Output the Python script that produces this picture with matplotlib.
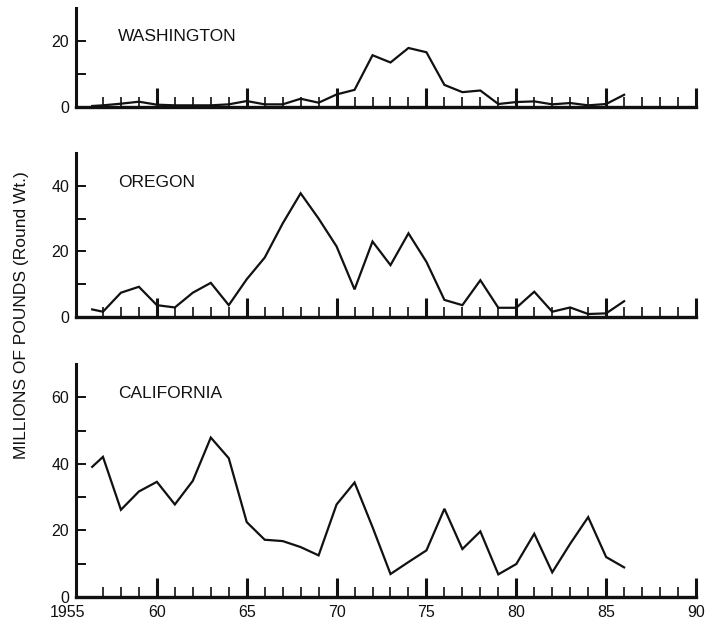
import numpy as np
import matplotlib.pyplot as plt
from matplotlib.ticker import FixedLocator

plt.rcParams['font.family'] = ['Liberation Sans', 'DejaVu Sans']

# landings, millions of pounds (round weight)
years = [1956.4] + list(range(1957, 1987))

washington = [0.3, 0.5, 1.0, 1.6, 0.7, 0.5, 0.5, 0.5, 0.8, 1.8,
              0.8, 0.8, 2.5, 1.3, 3.8, 5.2, 15.7, 13.5, 17.9, 16.6,
              6.7, 4.5, 5.0, 0.9, 1.5, 1.7, 0.8, 1.2, 0.5, 0.9, 3.7]
oregon = [2.3, 1.6, 7.4, 9.2, 3.6, 2.9, 7.4, 10.4, 3.6, 11.5,
          18.1, 28.5, 37.7, 30.0, 21.5, 8.4, 23.0, 15.8, 25.5, 16.8,
          5.2, 3.6, 11.2, 2.8, 2.8, 7.7, 1.6, 2.9, 0.9, 1.1, 4.8]
california = [39.1, 42.1, 26.2, 31.7, 34.6, 27.8, 34.9, 47.9, 41.7, 22.5,
              17.2, 16.8, 15.0, 12.5, 27.8, 34.4, 21.0, 6.9, 10.5, 14.0,
              26.5, 14.4, 19.7, 6.8, 9.9, 19.0, 7.4, 16.0, 24.0, 12.0, 8.9]

states = ['WASHINGTON', 'OREGON', 'CALIFORNIA']
series = [washington, oregon, california]
ymax = [30, 50, 70]
ymajor = [[0, 20], [0, 20, 40], [0, 20, 40, 60]]
yminor = [[10], [10, 30], [10, 30, 50]]
label_y = [21.4, 41, 61]

xmajor = [1960, 1965, 1970, 1975, 1980, 1985, 1990]
xmajor_labels = ['60', '65', '70', '75', '80', '85', '90']
xminor = [y for y in range(1957, 1990) if y % 5 != 0]

# axes boxes in figure fraction [left, bottom, width, height]
boxes = [[0.1069, 0.828, 0.872, 0.159],
         [0.1069, 0.4904, 0.872, 0.2637],
         [0.1069, 0.0402, 0.872, 0.3746]]

ink = '#111111'
fig = plt.figure(figsize=(7.11, 6.22), dpi=100)

for i in range(3):
    ax = fig.add_axes(boxes[i])
    ax.plot(years, series[i], color=ink, lw=1.6, solid_joinstyle='miter')
    ax.set_xlim(1955.5, 1990)
    ax.set_ylim(0, ymax[i])
    ax.spines['top'].set_visible(False)
    ax.spines['right'].set_visible(False)
    ax.spines['left'].set_linewidth(2.2)
    ax.spines['bottom'].set_linewidth(2.4)
    ax.spines['left'].set_color(ink)
    ax.spines['bottom'].set_color(ink)

    ax.set_xticks(xmajor)
    ax.xaxis.set_minor_locator(FixedLocator(xminor))
    ax.set_yticks(ymajor[i])
    ax.yaxis.set_minor_locator(FixedLocator(yminor[i]))
    ax.tick_params(axis='x', which='major', direction='in', length=14,
                   width=2.2, color=ink, pad=5.5, labelsize=11.5, labelcolor=ink)
    ax.tick_params(axis='x', which='minor', direction='in', length=7,
                   width=1.2, color=ink)
    ax.tick_params(axis='y', which='both', direction='in', length=7,
                   width=1.4, color=ink, pad=5, labelsize=11.5, labelcolor=ink)

    if i == 2:
        ax.set_xticklabels(xmajor_labels)
        ax.annotate('1955', xy=(1955, 0), xycoords=('data', 'axes fraction'),
                    xytext=(0, -5.5), textcoords='offset points',
                    ha='center', va='top', fontsize=11.5, color=ink,
                    annotation_clip=False)
    else:
        ax.set_xticklabels([])

    ax.text(1957.85, label_y[i], states[i], fontsize=12.5, color=ink,
            ha='left', va='center')

fig.text(0.03, 1 - 315 / 622, 'MILLIONS OF POUNDS (Round Wt.)',
         rotation=90, ha='center', va='center', fontsize=12.5, color=ink)

fig.savefig('out.png', dpi=100)
